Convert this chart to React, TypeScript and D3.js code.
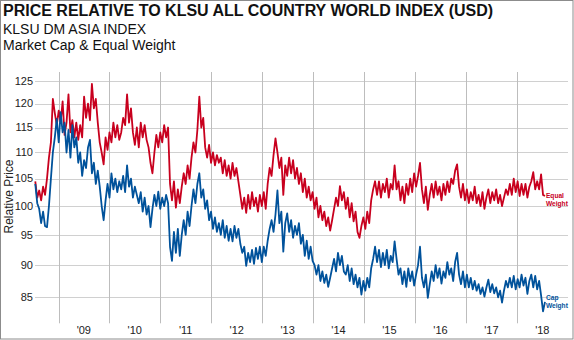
import React from "react";
import * as d3 from "d3";

const START_DATE = new Date(2008, 6, 18);
const STEP_DAYS = 14;

const equalWeight = [
  104.5, 101.5, 102.8, 101, 103.5, 102, 105, 109, 112, 121,
  118, 115.5, 118.5, 116, 120.5, 113.5, 116, 122, 114, 116.5,
  113, 116, 112.5, 115.5, 113, 121.5, 117, 120, 116.5, 124.3,
  119, 121, 116, 112, 110, 107.7, 113, 110.5, 114, 112,
  116, 113, 115.5, 112.5, 114, 117, 115.5, 122, 116, 119,
  114, 111.5, 115, 111, 116, 113, 115.5, 112.5, 111, 108,
  106, 110, 113.5, 111, 114, 112, 115.5, 113, 115, 104,
  101, 104.5, 99.7, 103, 100.5, 103.5, 106, 104, 107.5, 105,
  109, 112, 110, 114.5, 121.5, 115, 117, 111, 109, 111.5,
  108, 110, 107.5, 109.5, 108, 109, 106, 108.5, 105.5, 107.5,
  105, 108, 105.5, 107, 104.5, 102, 99.5, 101.5, 98.8, 102,
  99.5, 102.5, 100, 101.5, 99, 102, 100, 102.5, 99.5, 104,
  107, 105.5, 109.5, 112.8, 110, 107, 109, 102, 107.5, 105.5,
  109, 106, 108.5, 105, 107, 104, 106, 102.5, 105, 101.5,
  103.5, 101, 102.5, 99.5, 101.5, 98, 100, 97.5, 99, 96.5,
  98, 95.7, 97.5, 99.5, 101.5, 100, 103.6, 101, 102.5, 99.5,
  101.5, 98, 100.5, 97.3, 99, 95.5, 94.5, 96.5, 98, 96,
  99, 97, 101, 103, 104.5, 102, 104.5, 101.5, 104, 102.5,
  105, 101.5, 104, 103, 107.5, 103, 104.5, 101, 103.5, 100.5,
  104, 102, 105, 102.5, 106, 103.5, 105.5, 108, 103, 100.5,
  103.5, 99.3, 102, 104, 101.5, 104.5, 102, 103.5, 101, 104,
  102, 104.5, 102.5, 105, 104, 106.5, 107.7, 103.5, 101.5, 104,
  101, 103, 100.5, 102.5, 101, 103.5, 100.5, 102, 100, 102.5,
  99.5, 101.5, 103, 100.5, 102.5, 101, 103, 100.5, 102, 100,
  101.5, 103, 102, 104, 102, 105, 102.5, 104.5, 101.8, 104,
  102, 104, 101.5, 103.5, 104.5, 106.2, 103, 104.5, 103, 105.8, 102, 101.8,
];

const capWeight = [
  104, 100.5, 99.5, 97, 99, 96.5, 96.3, 100, 105, 110,
  113, 116.8, 112, 118.2, 114, 116, 110, 114.5, 109, 115.5,
  111, 113, 108, 110, 105.5, 108.5, 107, 111, 112.5, 106,
  108, 104, 106.5, 103.5, 100, 97.5, 101, 104, 101.5, 106,
  103, 105, 102.5, 104.5, 103, 105.5, 102.5, 107.5, 103.5, 105,
  101.5, 103.5, 102, 100.5, 102.5, 99, 101.5, 98.5, 100, 96.3,
  99.5, 102, 100, 102.6, 99.5, 101.5, 100, 102, 100.5, 93,
  90.7, 95.5, 92, 96, 91.5, 95, 97.5, 95, 99, 96.5,
  100, 103, 100.5, 104, 106, 101.5, 103, 99.5, 101, 97.5,
  99, 96, 98, 95.5, 97, 95, 97.5, 94.5, 96.5, 94,
  96, 93.9, 96.5, 94.5, 96, 93.5, 92, 93, 89.9, 92,
  90.5, 92.5, 90.2, 92.8, 91, 93, 90.5, 93, 91.5, 94,
  96, 97.5, 95.5, 98.5, 102.8, 97, 99, 92.2, 97, 98.7,
  95.5, 97.5, 94.5, 96.5, 95, 97, 93.5, 95, 91.5, 94,
  91, 93, 90.7, 90, 88.5, 90, 87.5, 89, 87.2, 88.5,
  86.6, 88, 89.5, 91, 89, 92, 90, 91.5, 89, 88.5,
  90, 87.5, 89.5, 87, 88.5, 86.5, 88, 85.4, 87.5, 86,
  88, 86.5, 89.5, 91, 93, 90.5, 92.5, 89.7, 92, 90,
  92.5, 89.5, 91.5, 90.5, 93.9, 91, 88.5, 89.5, 87, 89,
  86.6, 89.5, 87.5, 89, 86.8, 88.5, 90, 93, 88, 86.5,
  88.5, 84.9, 87, 89, 87.5, 90, 88, 89.5, 87.1, 89,
  88, 90.5, 88.5, 89.5, 87.5, 90.5, 92, 88.5, 87, 89,
  86.5, 88.5, 86.5, 88, 86.2, 87.5, 86, 87, 85.5, 86.5,
  85.1, 86.5, 87.7, 85.8, 87, 85.6, 86.5, 85, 86, 84.2,
  86, 87.5, 86.5, 88, 86.5, 88.3, 86.2, 87.8, 86.5, 88.5,
  86.8, 88, 85.5, 87.5, 88.5, 86.5, 88.3, 86.2, 87.5, 85.3, 82.9, 84.3,
];

const yTicks = [85, 90, 95, 100, 105, 110, 115, 120, 125];
const years = [2009, 2010, 2011, 2012, 2013, 2014, 2015, 2016, 2017, 2018];
const yearLabels = ["'09", "'10", "'11", "'12", "'13", "'14", "'15", "'16", "'17", "'18"];

const RED = "#C8001E";
const BLUE = "#00529B";
const FONT = "'Liberation Sans', Arial, sans-serif";

type Pt = { d: Date; v: number };

function toPoints(vals: number[]): Pt[] {
  return vals.map((v, i) => ({ d: d3.timeDay.offset(START_DATE, i * STEP_DAYS), v }));
}

export default function App() {
  const W = 574;
  const H = 340;
  const left = 35;
  const right = 568;
  const top = 72;
  const bottom = 323.3;

  const x = d3.scaleTime().domain([new Date(2008, 6, 16), new Date(2019, 0, 1)]).range([left, right]);
  const y = d3.scaleLog().domain([81.15, 126.95]).range([bottom, top]);

  const eq = toPoints(equalWeight);
  const cap = toPoints(capWeight);
  const line = d3
    .line<Pt>()
    .x((p) => x(p.d))
    .y((p) => y(p.v));

  const eqLast = eq[eq.length - 1];
  const capLast = cap[cap.length - 1];
  const labelX = x(eqLast.d) + 1;

  return (
    <svg width={W} height={H} style={{ position: "fixed", left: 0, top: 0, background: "#fff" }} fontFamily={FONT}>
      <rect x={0.5} y={0.5} width={W - 1.5} height={H - 1.5} fill="#fff" stroke="#8c8c8c" strokeWidth={1} />
      <text x={3} y={16} fontSize={16} fontWeight="bold" fill="#111">
        PRICE RELATIVE TO KLSU ALL COUNTRY WORLD INDEX (USD)
      </text>
      <text x={3} y={34} fontSize={14} fill="#111">
        KLSU DM ASIA INDEX
      </text>
      <text x={3} y={49.5} fontSize={14} fill="#111">
        Market Cap &amp; Equal Weight
      </text>

      {yTicks.map((t) => (
        <line key={"h" + t} x1={left} x2={right} y1={Math.round(y(t)) + 0.5} y2={Math.round(y(t)) + 0.5} stroke="#d0d0d0" strokeWidth={1} />
      ))}
      {years.map((yr) => {
        const xx = Math.round(x(new Date(yr, 0, 1))) + 0.5;
        return <line key={"v" + yr} x1={xx} x2={xx} y1={top} y2={bottom} stroke="#bdbdbd" strokeWidth={1} />;
      })}

      {yTicks.map((t) => (
        <text key={"yt" + t} x={33} y={y(t)} dy="0.35em" textAnchor="end" fontSize={11} fill="#222">
          {t}
        </text>
      ))}
      {years.map((yr, i) => (
        <text key={"xt" + yr} x={x(new Date(yr, 6, 1))} y={334} textAnchor="middle" fontSize={11} fill="#222">
          {yearLabels[i]}
        </text>
      ))}
      <text transform={`translate(13, 196.5) rotate(-90)`} textAnchor="middle" fontSize={12} fill="#222">
        Relative Price
      </text>

      <path d={line(eq) || ""} fill="none" stroke={RED} strokeWidth={1.8} strokeLinejoin="round" />
      <path d={line(cap) || ""} fill="none" stroke={BLUE} strokeWidth={1.8} strokeLinejoin="round" />

      <text x={labelX} y={y(eqLast.v) + 2.5} fontSize={6.6} fontWeight="bold" fill={RED}>Equal</text>
      <text x={labelX} y={y(eqLast.v) + 10.2} fontSize={6.6} fontWeight="bold" fill={RED}>Weight</text>
      <text x={labelX} y={y(capLast.v) - 2.1} fontSize={6.6} fontWeight="bold" fill={BLUE}>Cap</text>
      <text x={labelX} y={y(capLast.v) + 5.6} fontSize={6.6} fontWeight="bold" fill={BLUE}>Weight</text>
    </svg>
  );
}
